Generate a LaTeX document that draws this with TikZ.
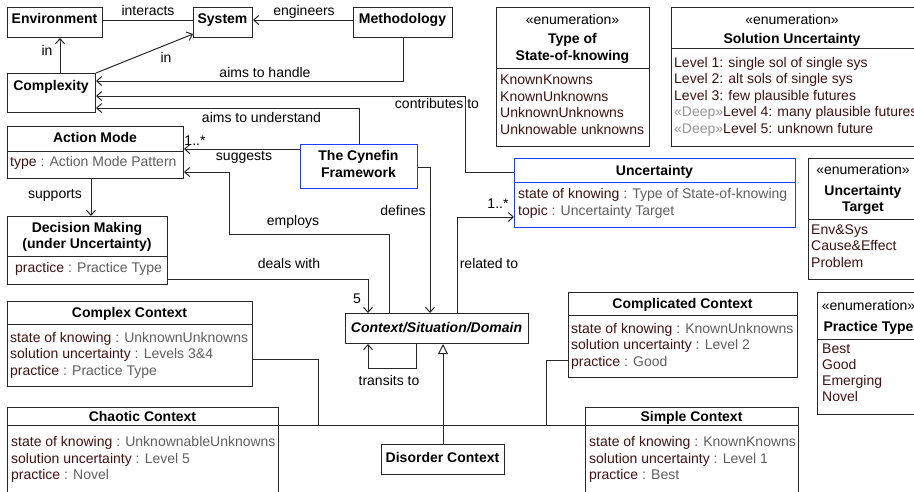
\documentclass[tikz,border=0pt]{standalone}
\usepackage{fontspec}
\setmainfont{Liberation Sans}
\usetikzlibrary{arrows.meta}

\definecolor{edge}{RGB}{40,40,40}
\definecolor{umlblue}{RGB}{30,60,255}
\definecolor{attrname}{RGB}{64,18,18}
\definecolor{attrtype}{RGB}{95,95,95}
\definecolor{stereo}{RGB}{150,150,150}

% attribute line: name in dark red, type in grey
\newcommand\attrline[2]{\textcolor{attrname}{#1} \textcolor{attrtype}{: #2}}
\newcommand\deepline[1]{\textcolor{stereo}{«Deep»}\textcolor{attrname}{#1}}

\tikzset{
  every node/.style={font=\fontsize{14}{16.5}\selectfont, inner sep=0pt, text=black},
  cls/.style={draw=edge, line width=1pt, fill=white, anchor=north west, inner sep=0pt},
  keycls/.style={cls, draw=umlblue},
  ttl/.style={font=\fontsize{14}{16.5}\selectfont\bfseries, anchor=base},
  ttlit/.style={font=\fontsize{14}{16.5}\selectfont\bfseries\itshape, anchor=base},
  stereotype/.style={anchor=base},
  lbl/.style={anchor=base},
  lit/.style={anchor=base west, text=attrname},
  attr/.style={anchor=base west},
  conn/.style={draw=edge, line width=1pt},
  nav/.style={conn, -{Straight Barb[length=5pt,width=9pt]}},
  gen/.style={conn, -{Triangle[open,length=10pt,width=10pt,fill=white]}},
}

\begin{document}
\begin{tikzpicture}[x=1pt,y=-1pt]
\useasboundingbox (0,0) rectangle (914,491);
\clip (0,0) rectangle (914,491);
\fill[white] (0,0) rectangle (914,491);

% ---------- class boxes ----------
\node[cls, minimum width=95pt, minimum height=30pt] (env) at (7,7) {};
\node[cls, minimum width=59pt, minimum height=30pt] (sys) at (193,7) {};
\node[cls, minimum width=99pt, minimum height=30pt] (meth) at (353,7) {};
\node[cls, minimum width=88pt, minimum height=39pt] (cplx) at (7,73) {};
\node[cls, minimum width=176pt, minimum height=52pt] (am) at (7,126) {};
\node[cls, minimum width=160pt, minimum height=68pt] (dm) at (7,216) {};
\node[keycls, minimum width=117pt, minimum height=44pt] (cyn) at (300,144) {};
\node[keycls, minimum width=281pt, minimum height=69pt] (unc) at (514,158) {};
\node[cls, minimum width=153pt, minimum height=139pt] (tsk) at (496,7) {};
\node[cls, minimum width=245pt, minimum height=139pt] (sol) at (671,7) {};
\node[cls, minimum width=110pt, minimum height=121pt] (utg) at (808,158) {};
\node[cls, minimum width=102pt, minimum height=122pt] (pty) at (817,292) {};
\node[cls, minimum width=245pt, minimum height=85pt] (cpx) at (7,301) {};
\node[cls, minimum width=271pt, minimum height=100pt] (cha) at (7,407) {};
\node[cls, minimum width=229pt, minimum height=85pt] (cpl) at (568,292) {};
\node[cls, minimum width=213pt, minimum height=100pt] (smp) at (585,407) {};
\node[cls, minimum width=183pt, minimum height=30pt] (ctx) at (345,313) {};
\node[cls, minimum width=123pt, minimum height=30pt] (dis) at (381,444) {};

% compartment dividers
\draw[conn] (am.west |- 0,151) -- (am.east |- 0,151);
\draw[conn] (dm.west |- 0,256) -- (dm.east |- 0,256);
\draw[draw=umlblue, line width=1pt] (unc.west |- 0,182) -- (unc.east |- 0,182);
\draw[conn] (tsk.west |- 0,68) -- (tsk.east |- 0,68);
\draw[conn] (sol.west |- 0,48) -- (sol.east |- 0,48);
\draw[conn] (utg.west |- 0,219) -- (utg.east |- 0,219);
\draw[conn] (pty.west |- 0,339) -- (pty.east |- 0,339);
\draw[conn] (cpx.west |- 0,324) -- (cpx.east |- 0,324);
\draw[conn] (cha.west |- 0,425) -- (cha.east |- 0,425);
\draw[conn] (cpl.west |- 0,315) -- (cpl.east |- 0,315);
\draw[conn] (smp.west |- 0,425) -- (smp.east |- 0,425);

% ---------- class texts ----------
\node[ttl] (envT) at (54.5,23) {Environment};
\node[ttl] (sysT) at (222.5,23) {System};
\node[ttl] (methT) at (402.5,23) {Methodology};
\node[ttl] (cplxT) at (51,90) {Complexity};

\node[ttl] (amT) at (95,142) {Action Mode};
\node[attr] (amA) at (10,166) {\attrline{type}{Action Mode Pattern}};

\node[ttl] (dmT1) at (87,232) {Decision Making};
\node[ttl] (dmT2) at (87,248) {(under Uncertainty)};
\node[attr] (dmA) at (15,272) {\attrline{practice}{Practice Type}};

\node[ttl] (cynT1) at (358.5,160) {The Cynefin};
\node[ttl] (cynT2) at (358.5,177) {Framework};

\node[ttl] (uncT) at (654.5,175) {Uncertainty};
\node[attr] (uncA1) at (518,198) {\attrline{state of knowing}{Type of State-of-knowing}};
\node[attr] (uncA2) at (518,215) {\attrline{topic}{Uncertainty Target}};

\node[stereotype] (tskS) at (572.5,24) {«enumeration»};
\node[ttl] (tskT1) at (572.5,43) {Type of};
\node[ttl] (tskT2) at (572.5,60) {State-of-knowing};
\node[lit] (tskL1) at (500,84.5) {KnownKnowns};
\node[lit] (tskL2) at (500,101) {KnownUnknowns};
\node[lit] (tskL3) at (500,117.5) {UnknownUnknowns};
\node[lit] (tskL4) at (500,134) {Unknowable unknowns};

\node[stereotype] (solS) at (792,24) {«enumeration»};
\node[ttl] (solT) at (792,43.5) {Solution Uncertainty};
\node[lit] (solL1) at (674,67) {Level 1: single sol of single sys};
\node[lit] (solL2) at (674,83.5) {Level 2: alt sols of single sys};
\node[lit] (solL3) at (674,100) {Level 3: few plausible futures};
\node[attr] (solL4) at (674,116.5) {\deepline{Level 4: many plausible futures}};
\node[attr] (solL5) at (674,133) {\deepline{Level 5: unknown future}};

\node[stereotype] (utgS) at (863,174) {«enumeration»};
\node[ttl] (utgT1) at (863,195) {Uncertainty};
\node[ttl] (utgT2) at (863,211) {Target};
\node[lit] (utgL1) at (811,234) {Env\&Sys};
\node[lit] (utgL2) at (811,250.5) {Cause\&Effect};
\node[lit] (utgL3) at (811,267) {Problem};

\node[stereotype] (ptyS) at (868.5,310) {«enumeration»};
\node[ttl] (ptyT) at (868.5,331) {Practice Type};
\node[lit] (ptyL1) at (822,353) {Best};
\node[lit] (ptyL2) at (822,369) {Good};
\node[lit] (ptyL3) at (822,385.5) {Emerging};
\node[lit] (ptyL4) at (822,401.5) {Novel};

\node[ttl] (cpxT) at (129.5,317) {Complex Context};
\node[attr] (cpxA1) at (10,342) {\attrline{state of knowing}{UnknownUnknowns}};
\node[attr] (cpxA2) at (10,358.5) {\attrline{solution uncertainty}{Levels 3\&4}};
\node[attr] (cpxA3) at (10,375) {\attrline{practice}{Practice Type}};

\node[ttl] (chaT) at (142.5,421) {Chaotic Context};
\node[attr] (chaA1) at (11,446.5) {\attrline{state of knowing}{UnknownableUnknowns}};
\node[attr] (chaA2) at (11,463) {\attrline{solution uncertainty}{Level 5}};
\node[attr] (chaA3) at (11,479.5) {\attrline{practice}{Novel}};

\node[ttl] (cplT) at (682.5,308) {Complicated Context};
\node[attr] (cplA1) at (571,333) {\attrline{state of knowing}{KnownUnknowns}};
\node[attr] (cplA2) at (571,349.5) {\attrline{solution uncertainty}{Level 2}};
\node[attr] (cplA3) at (571,366) {\attrline{practice}{Good}};

\node[ttl] (smpT) at (691.5,421) {Simple Context};
\node[attr] (smpA1) at (589,446.5) {\attrline{state of knowing}{KnownKnowns}};
\node[attr] (smpA2) at (589,463) {\attrline{solution uncertainty}{Level 1}};
\node[attr] (smpA3) at (589,479.5) {\attrline{practice}{Best}};

\node[ttlit] (ctxT) at (436.5,332) {Context/Situation/Domain};
\node[ttl] (disT) at (442.5,462) {Disorder Context};

% ---------- associations ----------
\draw[conn] (env.east |- 0,20) -- (sys.west |- 0,20);
\draw[nav] (meth.west |- 0,20) -- (sys.east |- 0,20);
\draw[nav] (cplx.north -| 60,0) -- (env.south -| 60,0);
\draw[nav] (cplx.north east) -- (sys.west |- 0,34);
\draw[nav] (meth.south -| 403,0) |- (cplx.east |- 0,81);
\draw[nav] (unc.west |- 0,172) -- (465,172) -- (465,96) -- (cplx.east |- 0,96);
\draw[nav] (cyn.north -| 359,0) |- (cplx.east |- 0,108);
\draw[nav] (cyn.west |- 0,149) -- (am.east |- 0,149);
\draw[nav] (ctx.north -| 389,0) |- (229,234) |- (am.east |- 0,172);
\draw[nav] (am.south -| 91,0) -- (dm.north -| 91,0);
\draw[nav] (dm.east |- 0,279) -| (ctx.north -| 368,0);
\draw[nav] (cyn.east |- 0,167) -| (ctx.north -| 430,0);
\draw[nav] (ctx.north -| 457,0) |- (unc.west |- 0,217);
\draw[nav] (ctx.south -| 416,0) -- (416,368) -- (368,368) -- (ctx.south -| 368,0);

% ---------- generalization tree ----------
\coordinate (busL) at (318,425);
\coordinate (busR) at (546,425);
\draw[conn] (cha.east |- 0,425) -- (smp.west |- 0,425);
\draw[conn] (cpx.east |- 0,359) -| (busL);
\draw[conn] (cpl.west |- 0,360) -| (busR);
\draw[gen] (dis.north -| 443,0) -- (ctx.south -| 443,0);

% ---------- connector labels ----------
\node[lbl] (lInteracts) at (148,15) {interacts};
\node[lbl] (lEngineers) at (304,15) {engineers};
\node[lbl] (lIn1) at (47,55) {in};
\node[lbl] (lIn2) at (166,62) {in};
\node[lbl] (lHandle) at (265,77) {aims to handle};
\node[lbl] (lContrib) at (437,108) {contributes to};
\node[lbl] (lUnderstand) at (261.5,122) {aims to understand};
\node[lbl] (lSuggests) at (244,160) {suggests};
\node[lbl] (lMultA) at (195,145) {1..*};
\node[lbl] (lSupports) at (55,198) {supports};
\node[lbl] (lEmploys) at (293,225) {employs};
\node[lbl] (lDeals) at (289,268) {deals with};
\node[lbl] (lDefines) at (403,215) {defines};
\node[lbl] (lFive) at (357,303) {5};
\node[lbl] (lMultU) at (498,208) {1..*};
\node[lbl] (lRelated) at (489,268) {related to};
\node[lbl] (lTransits) at (389,385) {transits to};
\end{tikzpicture}
\end{document}
